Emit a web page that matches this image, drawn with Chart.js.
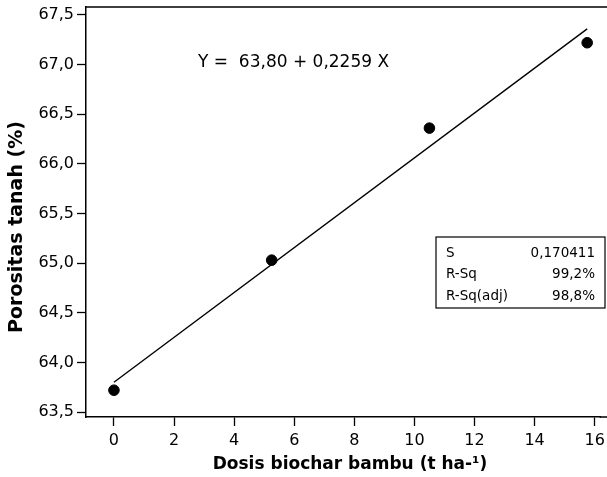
<!DOCTYPE html>
<html>
<head>
<meta charset="utf-8">
<script src="https://cdn.jsdelivr.net/npm/chart.js@4"></script>
<style>
    html, body { margin: 0; padding: 0; background: #fff; }
    #wrap { width: 607px; height: 477px; }
</style>
</head>
<body>
<div id="wrap"><canvas id="fitChart" width="607" height="477"></canvas></div>
<script>
// Data
const dosis = [0, 5.25, 10.5, 15.75];
const porositas = [63.72, 65.03, 66.36, 67.22];
const fitX = [0, 15.75];
const fitY = [63.80, 67.36];
const xTicks = [0, 2, 4, 6, 8, 10, 12, 14, 16];
const yTicks = [63.5, 64.0, 64.5, 65.0, 65.5, 66.0, 66.5, 67.0, 67.5];
const equationText = 'Y =  63,80 + 0,2259 X';
const statLabels = ['S', 'R-Sq', 'R-Sq(adj)'];
const statValues = ['0,170411', '99,2%', '98,8%'];

const FONT = "'DejaVu Sans', Verdana, sans-serif";

const decor = {
    id: 'decor',
    afterDraw(chart) {
        const { ctx, chartArea: a } = chart;
        ctx.save();
        // top and bottom frame lines run to the edge of the picture
        ctx.strokeStyle = '#000';
        ctx.lineWidth = 1.5;
        ctx.beginPath();
        ctx.moveTo(a.left, a.top);
        ctx.lineTo(chart.width, a.top);
        ctx.moveTo(a.right - 1, a.bottom);
        ctx.lineTo(chart.width, a.bottom);
        ctx.stroke();

        // equation
        ctx.fillStyle = '#000';
        ctx.font = '17px ' + FONT;
        ctx.textBaseline = 'middle';
        ctx.textAlign = 'left';
        ctx.fillText(equationText, 198, 63);

        // stats box
        ctx.lineWidth = 1.2;
        ctx.strokeRect(436, 237, 169, 71);
        ctx.font = '13.5px ' + FONT;
        statLabels.forEach((lab, i) => {
            const y = 253 + i * 21.5;
            ctx.textAlign = 'left';
            ctx.fillText(lab, 446, y);
            ctx.textAlign = 'right';
            ctx.fillText(statValues[i], 595, y);
        });

        // axis titles
        ctx.font = 'bold 17px ' + FONT;
        ctx.textAlign = 'center';
        ctx.fillText('Dosis biochar bambu (t ha-¹)', 350, 465);
        ctx.font = 'bold 19px ' + FONT;
        ctx.translate(17, 227);
        ctx.rotate(-Math.PI / 2);
        ctx.fillText('Porositas tanah (%)', 0, 0);
        ctx.restore();
    }
};

const ctx = document.getElementById('fitChart').getContext('2d');
new Chart(ctx, {
    type: 'scatter',
    data: {
        datasets: [{
            label: 'Data',
            data: dosis.map((x, i) => ({ x: x, y: porositas[i] })),
            backgroundColor: '#000',
            borderColor: '#000',
            pointRadius: 5.3,
            pointHoverRadius: 5.3
        }, {
            label: 'Fit',
            type: 'line',
            data: fitX.map((x, i) => ({ x: x, y: fitY[i] })),
            borderColor: '#000',
            borderWidth: 1.4,
            pointRadius: 0,
            fill: false
        }]
    },
    options: {
        responsive: false,
        animation: false,
        layout: { padding: { top: 7, right: 0, left: 0, bottom: 0 } },
        plugins: { legend: { display: false }, tooltip: { enabled: false } },
        scales: {
            x: {
                type: 'linear',
                min: -0.93,
                max: 16.2,
                afterFit: s => { s.height = 60; s.paddingLeft = 0; s.paddingRight = 0; },
                afterBuildTicks: s => { s.ticks = xTicks.map(v => ({ value: v })); },
                grid: { drawOnChartArea: false, drawTicks: true, tickLength: 9, tickColor: '#000', tickWidth: 1.3 },
                border: { color: '#000', width: 1.5 },
                ticks: { color: '#000', font: { family: FONT, size: 16 }, padding: 5, maxRotation: 0,
                         callback: v => String(v) }
            },
            y: {
                type: 'linear',
                min: 63.45,
                max: 67.58,
                afterFit: s => { s.width = 86; s.paddingTop = 0; s.paddingBottom = 0; },
                afterBuildTicks: s => { s.ticks = yTicks.map(v => ({ value: v })); },
                grid: { drawOnChartArea: false, drawTicks: true, tickLength: 9, tickColor: '#000', tickWidth: 1.3 },
                border: { color: '#000', width: 1.5 },
                ticks: { color: '#000', font: { family: FONT, size: 16 }, padding: 3,
                         callback: v => v.toFixed(1).replace('.', ',') }
            }
        }
    },
    plugins: [decor]
});
</script>
</body>
</html>
